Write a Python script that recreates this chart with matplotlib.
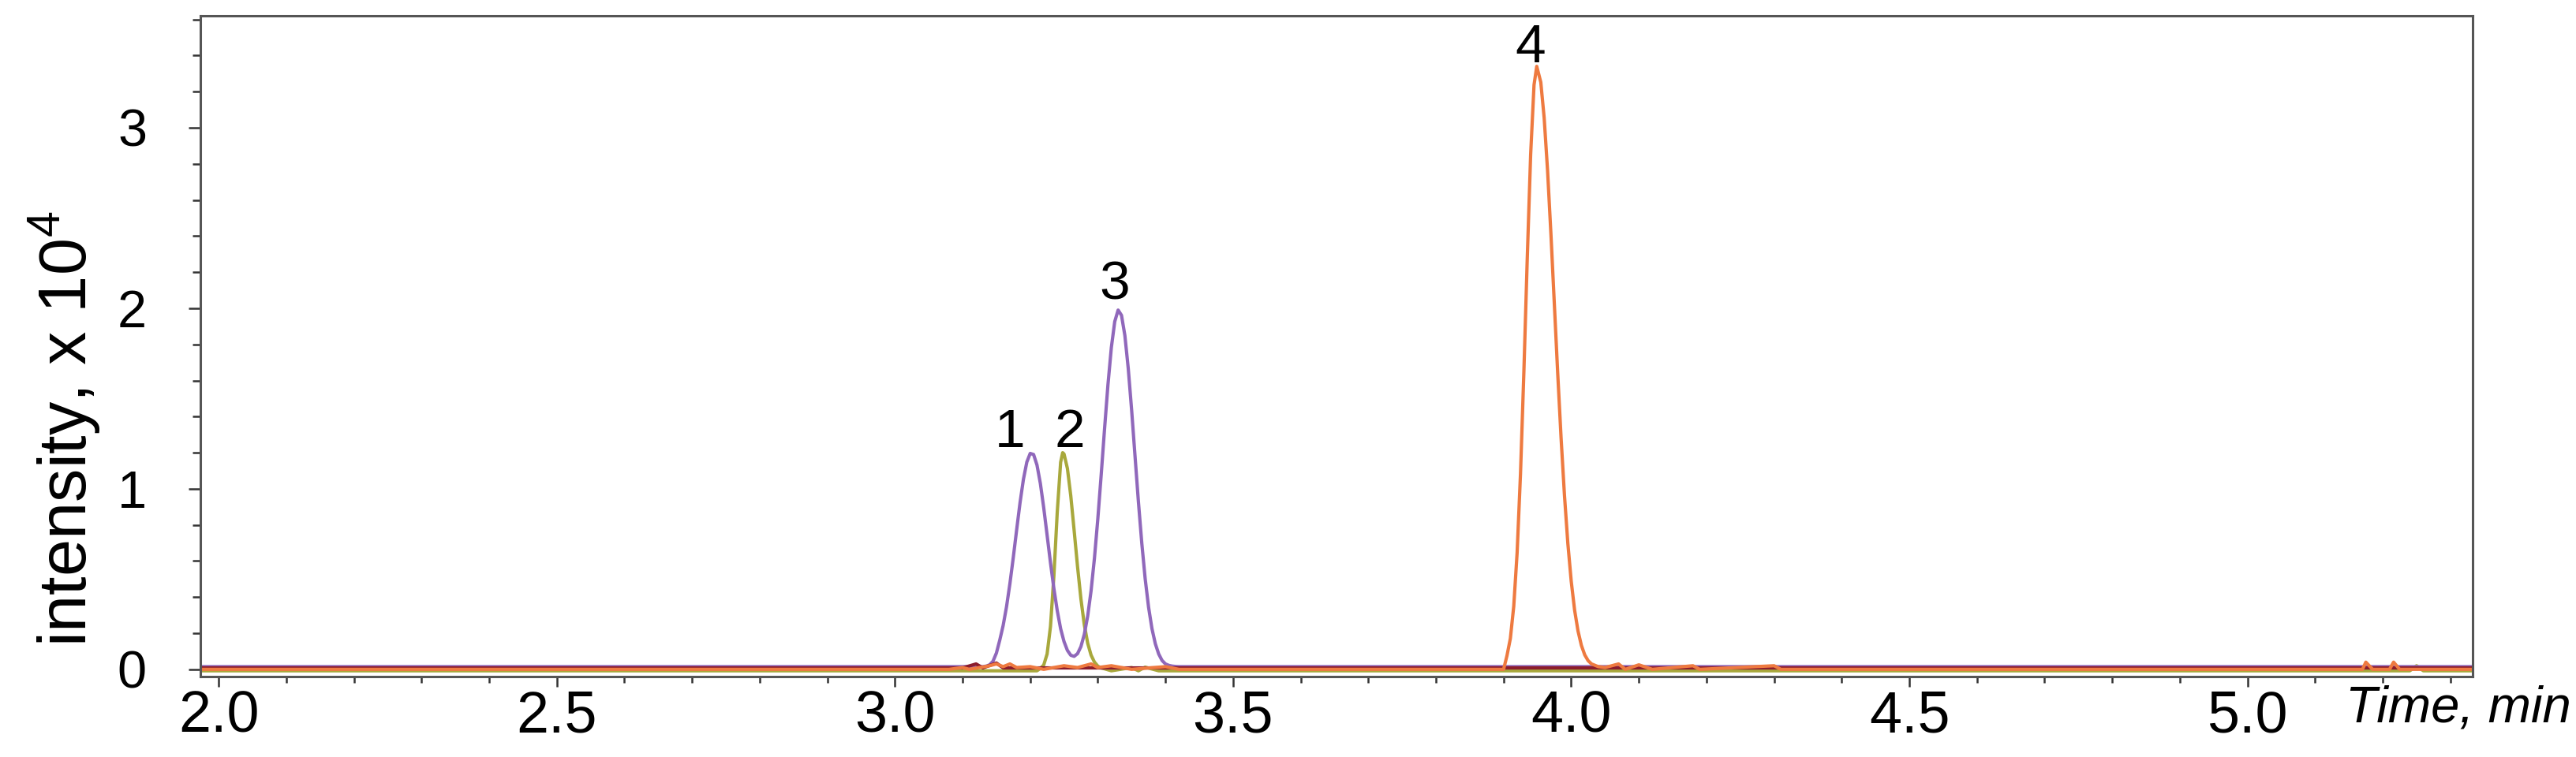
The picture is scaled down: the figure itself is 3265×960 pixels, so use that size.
import matplotlib
matplotlib.use("Agg")
import matplotlib.pyplot as plt
from matplotlib.ticker import MultipleLocator

plt.rcParams['font.family'] = ['Liberation Sans', 'DejaVu Sans']
plt.rcParams['mathtext.fontset'] = 'custom'
plt.rcParams['mathtext.rm'] = 'Liberation Sans'

# intensities in units of 1e4, time in min
purple_t = [1.973, 3.13, 3.135, 3.14, 3.145, 3.15, 3.155, 3.16, 3.165, 3.17, 3.175, 3.18,
            3.185, 3.19, 3.195, 3.2, 3.205, 3.21, 3.215, 3.22, 3.225, 3.23, 3.235, 3.24,
            3.245, 3.25, 3.255, 3.26, 3.265, 3.27, 3.275, 3.28, 3.285, 3.29, 3.295, 3.3,
            3.305, 3.31, 3.315, 3.32, 3.325, 3.33, 3.335, 3.34, 3.345, 3.35, 3.355, 3.36,
            3.365, 3.37, 3.375, 3.38, 3.385, 3.39, 3.395, 3.4, 3.405, 3.41, 3.415, 3.42, 5.333]
purple_y = [0.015, 0.015, 0.018, 0.025, 0.045, 0.09, 0.162, 0.243, 0.347, 0.475, 0.62, 0.774,
            0.924, 1.053, 1.148, 1.196, 1.19, 1.132, 1.03, 0.895, 0.743, 0.59, 0.448, 0.325,
            0.225, 0.154, 0.105, 0.078, 0.072, 0.087, 0.126, 0.194, 0.295, 0.435, 0.616, 0.834,
            1.079, 1.335, 1.578, 1.783, 1.926, 1.99, 1.961, 1.849, 1.666, 1.435, 1.181, 0.929,
            0.699, 0.502, 0.345, 0.226, 0.142, 0.085, 0.049, 0.03, 0.022, 0.018, 0.016, 0.015, 0.015]

olive_t = [1.973, 3.21, 3.215, 3.22, 3.225, 3.23, 3.235, 3.24, 3.245, 3.248, 3.25, 3.255,
           3.26, 3.265, 3.27, 3.275, 3.28, 3.285, 3.29, 3.295, 3.3, 3.305, 3.31, 3.32,
           3.35, 3.36, 3.37, 3.39, 5.24, 5.25, 5.26, 5.333]
olive_y = [-0.008, -0.008, 0.005, 0.024, 0.085, 0.238, 0.516, 0.871, 1.147, 1.2, 1.193, 1.113,
           0.961, 0.768, 0.569, 0.39, 0.247, 0.145, 0.079, 0.04, 0.018, 0.008, 0.003, -0.008,
           0.01, -0.008, 0.012, -0.008, -0.008, 0.02, -0.008, -0.008]

orange_t = [1.973, 3.08, 3.1, 3.11, 3.14, 3.15, 3.16, 3.17, 3.18, 3.2, 3.22, 3.25, 3.27,
            3.29, 3.3, 3.32, 3.35, 3.4, 3.42, 3.9, 3.905, 3.91, 3.915, 3.92, 3.925, 3.93,
            3.935, 3.94, 3.945, 3.949, 3.955, 3.96, 3.965, 3.97, 3.975, 3.98, 3.985, 3.99,
            3.995, 4.0, 4.005, 4.01, 4.015, 4.02, 4.025, 4.03, 4.04, 4.05, 4.07, 4.08, 4.1,
            4.12, 4.18, 4.19, 4.3, 4.31, 5.17, 5.175, 5.185, 5.21, 5.216, 5.225, 5.333]
orange_y = [0.0, 0.0, 0.01, 0.0, 0.02, 0.03, 0.015, 0.03, 0.01, 0.015, 0.0, 0.02, 0.01,
            0.03, 0.01, 0.02, 0.0, 0.015, 0.0, 0.0, 0.076, 0.171, 0.349, 0.646, 1.084, 1.65,
            2.278, 2.852, 3.237, 3.34, 3.252, 3.054, 2.764, 2.41, 2.026, 1.641, 1.281, 0.964,
            0.698, 0.488, 0.328, 0.213, 0.133, 0.08, 0.048, 0.03, 0.015, 0.01, 0.03, 0.0, 0.025,
            0.0, 0.02, 0.0, 0.02, 0.0, 0.0, 0.04, 0.0, 0.0, 0.04, 0.0, 0.0]

maroon_t = [1.973, 3.1, 3.12, 3.13, 3.15, 3.16, 3.2, 5.333]
maroon_y = [0.008, 0.008, 0.03, 0.008, 0.035, 0.008, 0.008, 0.008]

peak_labels = ['1', '2', '3', '4']
label_x = [3.17, 3.258, 3.325, 3.94]
label_y = [1.31, 1.31, 2.13, 3.44]

fig = plt.figure(figsize=(32.65, 9.6), dpi=100)
ax = fig.add_axes([0.0778, 0.10625, 0.8821, 0.8729])

ax.plot(olive_t, olive_y, color='#a8a83c', lw=3)
ax.plot(purple_t, purple_y, color='#9068bb', lw=3)
ax.plot(maroon_t, maroon_y, color='#8c1c2c', lw=3)
ax.plot(orange_t, orange_y, color='#ee7a40', lw=3)

for s, x, y in zip(peak_labels, label_x, label_y):
    ax.text(x, y, s, fontsize=50, ha='center', va='center')

ax.set_xlim(1.973, 5.333)
ax.set_ylim(-0.04, 3.62)
ax.xaxis.set_major_locator(MultipleLocator(0.5))
ax.xaxis.set_minor_locator(MultipleLocator(0.1))
ax.yaxis.set_major_locator(MultipleLocator(1))
ax.yaxis.set_minor_locator(MultipleLocator(0.2))
ax.xaxis.set_major_formatter(matplotlib.ticker.FormatStrFormatter('%.1f'))

ax.tick_params(axis='x', which='major', length=9, width=1.8, pad=3, labelsize=53, color='#333333')
ax.tick_params(axis='x', which='minor', length=6, width=1.8, color='#333333')
ax.tick_params(axis='y', which='major', length=11, width=1.8, pad=38, labelsize=48, color='#333333')
ax.tick_params(axis='y', which='minor', length=7, width=1.8, color='#333333')

for sp in ax.spines.values():
    sp.set_linewidth(2.2)
    sp.set_color('#555555')

ax.set_ylabel('intensity, x 10$^{4}$', fontsize=61)
ax.yaxis.set_label_coords(-0.043, 0.375)

fig.text(0.998, 0.046, 'Time, min', fontsize=47, style='italic', ha='right', va='baseline')

fig.savefig('out.png', dpi=100)
